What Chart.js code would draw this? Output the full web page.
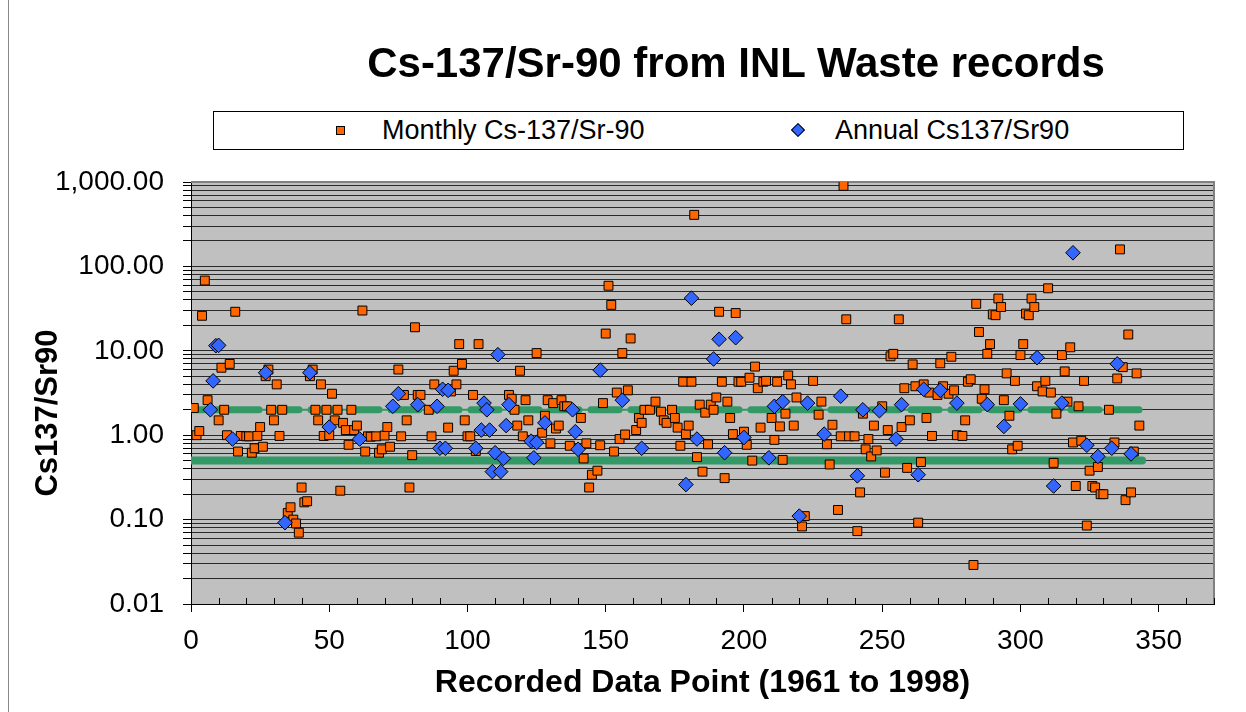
<!DOCTYPE html>
<html>
<head>
<meta charset="utf-8">
<title>Cs-137/Sr-90 from INL Waste records</title>
<script src="https://cdn.jsdelivr.net/npm/chart.js@4.4.1/dist/chart.umd.min.js"></script>
<style>
    body { margin: 0; background: #fff; font-family: 'Liberation Sans', Arial, sans-serif; }
    #wrap { position: relative; width: 1246px; height: 712px; overflow: hidden; }
    #edge { position: absolute; left: 8px; top: 0; width: 1px; height: 712px; background: #888; }
    #title { position: absolute; left: 236px; width: 1000px; top: 38px; text-align: center;
             font-weight: bold; font-size: 42px; line-height: 50px; color: #000; }
    #legend { position: absolute; left: 213px; top: 111px; width: 969px; height: 37px;
              border: 1px solid #000; background: #fff; }
    .lg-text { position: absolute; top: 2px; font-size: 27px; line-height: 32px; color: #000; white-space: nowrap; }
    .sq { position: absolute; width: 7px; height: 7px; background: #ff6600; border: 1px solid #000; }
    .dia { position: absolute; width: 8px; height: 8px; background: #3366ff; border: 1px solid #000; transform: rotate(45deg); }
    #ytitle { position: absolute; left: -103px; top: 393px; width: 300px; height: 40px; line-height: 40px;
              text-align: center; font-weight: bold; font-size: 31px; transform: rotate(-90deg); color: #000; }
    canvas { position: absolute; left: 0; top: 0; }
</style>
</head>
<body>
<div id="wrap">
    <canvas id="chart" width="1246" height="712"></canvas>
    <div id="edge"></div>
    <div id="title">Cs-137/Sr-90 from INL Waste records</div>
    <div id="legend">
        <span class="sq" style="left:122px; top:14px;"></span>
        <span class="lg-text" style="left:168px;">Monthly Cs-137/Sr-90</span>
        <span class="dia" style="left:579px; top:13px;"></span>
        <span class="lg-text" style="left:621px;">Annual Cs137/Sr90</span>
    </div>
    <div id="ytitle">Cs137/Sr90</div>
</div>
<script>
// 数据：每月 Cs-137/Sr-90 比值 [记录点, 比值]
const monthlyData = [
    [1,2.1],[2,1.0],[3,1.12],[4,26],[5,68],[6,2.6],[10,1.5],[11,6.3],[12,2.0],[13,1.0],
    [14,7.0],[16,29],[17,0.64],[18,0.98],[20,0.97],[21,0.97],[22,0.62],[23,0.7],[24,0.98],[25,1.25],
    [26,0.73],[27,5.0],[28,6.0],[29,2.0],[30,1.5],[31,4.0],[32,0.98],[33,2.0],[35,0.12],[36,0.14],
    [37,0.10],[38,0.09],[39,0.07],[40,0.24],[41,0.16],[42,0.165],[43,5.0],[44,6.0],[45,2.0],[46,1.5],
    [47,4.0],[48,0.98],[49,2.0],[50,1.0],[51,3.1],[52,1.5],[53,2.0],[54,0.22],[55,1.4],[56,1.15],
    [57,0.77],[58,2.0],[59,1.15],[60,1.3],[62,30],[63,0.64],[64,0.97],[65,0.96],[67,0.97],[68,0.62],
    [69,0.68],[70,0.99],[71,1.25],[72,0.73],[75,6.0],[76,0.97],[77,3.0],[78,1.5],[79,0.24],[80,0.58],
    [81,19],[82,3.0],[83,3.0],[86,2.0],[87,0.97],[88,4.0],[93,1.23],[94,3.3],[95,5.8],[96,4.0],
    [97,12],[98,7.0],[99,1.5],[100,0.97],[101,0.97],[102,3.0],[103,0.65],[104,12],[115,3.0],[116,2.7],
    [117,2.0],[118,1.3],[119,5.8],[120,0.97],[121,2.6],[122,1.5],[125,9.4],[127,1.07],[128,1.7],[129,2.6],
    [130,0.8],[131,2.4],[132,1.2],[133,1.3],[134,2.6],[135,2.2],[136,2.2],[137,0.75],[141,1.6],[142,0.53],
    [143,0.8],[144,0.24],[145,0.34],[147,0.38],[148,0.76],[149,2.4],[150,16],[151,59],[152,35],[153,0.64],
    [154,3.2],[155,0.9],[156,9.4],[157,1.02],[158,3.4],[159,14],[161,1.15],[162,1.6],[163,1.4],[164,2.0],
    [166,2.0],[168,2.5],[170,1.9],[171,1.5],[172,1.4],[174,2.0],[175,1.6],[176,1.23],[177,0.75],[178,4.3],
    [179,1.03],[180,1.3],[181,4.3],[182,408],[183,0.55],[184,2.3],[185,0.37],[186,1.85],[187,0.78],[188,2.3],
    [189,2.0],[190,2.8],[191,29],[192,4.3],[193,0.31],[194,2.5],[195,1.6],[196,1.03],[197,28],[198,4.3],
    [199,4.3],[200,1.1],[201,0.77],[202,4.8],[203,0.5],[204,6.5],[205,3.6],[206,1.23],[207,4.3],[208,4.4],
    [210,1.6],[211,0.88],[212,4.3],[213,1.27],[214,0.51],[215,1.8],[216,5.1],[217,4.0],[218,1.3],[219,2.8],
    [221,0.083],[222,0.11],[225,4.4],[227,1.75],[228,2.5],[230,0.78],[231,0.45],[232,1.33],[234,0.13],[235,0.97],
    [236,900],[237,23.6],[238,0.97],[240,0.97],[241,0.073],[242,0.21],[243,1.8],[244,0.68],[245,0.9],[246,0.56],
    [247,1.3],[248,0.66],[250,2.2],[251,0.36],[252,1.15],[253,8.6],[254,9.2],[256,23.6],[257,1.25],[258,3.6],
    [259,0.41],[260,1.5],[261,6.9],[262,3.8],[263,0.092],[264,0.48],[265,4.0],[266,1.6],[267,3.2],[268,0.98],
    [270,3.0],[271,7.1],[272,3.8],[274,3.1],[275,8.5],[276,3.4],[277,1.0],[279,0.98],[280,1.5],[281,4.3],
    [282,4.6],[283,0.029],[284,36],[285,16.7],[286,2.7],[287,3.5],[288,9.2],[289,12],[290,27],[291,26.4],
    [292,41.6],[293,33],[294,2.6],[295,5.4],[296,1.7],[297,0.68],[298,4.4],[299,0.75],[300,8.9],[301,12],
    [302,27.6],[303,26.4],[304,41.6],[305,33],[306,3.8],[308,3.3],[309,4.4],[310,55],[311,3.2],[312,0.47],
    [313,1.8],[315,8.9],[316,5.7],[317,2.5],[318,11],[319,0.82],[320,0.25],[321,2.2],[322,0.86],[323,4.4],
    [324,0.085],[325,0.38],[326,0.25],[327,0.24],[328,0.42],[329,0.2],[330,0.2],[332,2.0],[334,0.82],[335,4.7],
    [336,159],[337,6.4],[338,0.17],[339,15.6],[340,0.21],[341,0.64],[342,5.4],[343,1.3]
];

// 年度 Cs137/Sr90 比值
const annualData = [
    [7,2.0],[8,4.4],[9,11.5],[10,11.6],[15,0.9],[27,5.5],[34,0.092],[43,5.5],[50,1.25],[61,0.9],
    [73,2.2],[75,3.1],[82,2.3],[89,2.2],[90,0.7],[91,3.5],[92,0.7],[93,3.4],[103,0.7],[105,1.15],
    [106,2.4],[107,2.0],[108,1.15],[109,0.37],[110,0.62],[111,9],[112,0.37],[113,0.53],[114,1.3],[115,2.3],
    [123,0.85],[124,0.54],[125,0.82],[128,1.4],[138,2.0],[139,1.1],[140,0.68],[148,5.9],[156,2.6],[163,0.7],
    [179,0.26],[181,42],[183,0.9],[189,8.0],[191,13.7],[193,0.62],[197,14.3],[200,0.94],[209,0.54],[211,2.2],
    [214,2.5],[220,0.11],[223,2.4],[229,1.03],[235,2.9],[241,0.33],[243,2.0],[249,1.95],[255,0.9],[257,2.3],
    [263,0.34],[265,3.5],[271,3.4],[277,2.4],[288,2.3],[294,1.27],[300,2.35],[306,8.3],[312,0.25],[315,2.4],
    [319,145],[324,0.76],[328,0.56],[333,0.7],[335,7.0],[340,0.6]
];

// 参考线（绿色）
const guideHigh = 2;
const guideLow = 0.5;
const guideFrom = 0;
const guideTo = 344;

// 坐标轴
const xMin = 0;
const xMax = 370;
const xStep = 10;
const xLabelEvery = 50;
const yDecades = [0.01, 0.1, 1, 10, 100, 1000];
const yTickLabels = ['0.01', '0.10', '1.00', '10.00', '100.00', '1,000.00'];

// 对数刻度的全部网格值 (1..9 × 10^k)
function buildLogGrid() {
    const vals = [];
    for (let i = 0; i < yDecades.length - 1; i++) {
        for (let m = 1; m <= 9; m++) {
            vals.push(Number((m * yDecades[i]).toPrecision(3)));
        }
    }
    vals.push(yDecades[yDecades.length - 1]);
    return vals;
}

function toPoints(pairs) {
    return pairs.map(p => ({ x: p[0], y: p[1] }));
}

const FONT = "'Liberation Sans', Arial, sans-serif";

// 绘图区背景和边框
const plotAreaPlugin = {
    id: 'plotArea',
    beforeDraw(chart) {
        const { ctx, chartArea: a } = chart;
        ctx.save();
        ctx.fillStyle = '#c0c0c0';
        ctx.fillRect(a.left, a.top, a.right - a.left, a.bottom - a.top);
        ctx.restore();
    },
    beforeDatasetsDraw(chart) {
        const { ctx, chartArea: a } = chart;
        ctx.save();
        ctx.strokeStyle = '#808080';
        ctx.lineWidth = 2;
        ctx.beginPath();
        ctx.moveTo(a.left, a.top);
        ctx.lineTo(a.right, a.top);
        ctx.lineTo(a.right, a.bottom);
        ctx.stroke();
        // x 轴次刻度（向内）
        const xs = chart.scales.x;
        ctx.strokeStyle = '#000';
        ctx.lineWidth = 1;
        xs.ticks.forEach(t => {
            if (t.value % xLabelEvery !== 0) {
                const px = Math.round(xs.getPixelForValue(t.value)) + 0.5;
                ctx.beginPath();
                ctx.moveTo(px, a.bottom);
                ctx.lineTo(px, a.bottom - 6);
                ctx.stroke();
            }
        });
        ctx.restore();
    }
};

const ctx = document.getElementById('chart').getContext('2d');

new Chart(ctx, {
    type: 'scatter',
    data: {
        datasets: [{
            label: 'Monthly Cs-137/Sr-90',
            data: toPoints(monthlyData),
            pointStyle: 'rect',
            pointRadius: 6.3,
            pointBackgroundColor: '#ff6600',
            pointBorderColor: '#000',
            pointBorderWidth: 1,
            order: 1
        }, {
            label: 'Annual Cs137/Sr90',
            data: toPoints(annualData),
            pointStyle: 'rectRot',
            pointRadius: 7.3,
            pointBackgroundColor: '#3366ff',
            pointBorderColor: '#000',
            pointBorderWidth: 1,
            order: 0
        }, {
            label: 'guide high thin',
            data: [{ x: guideFrom, y: guideHigh }, { x: guideTo, y: guideHigh }],
            showLine: true,
            borderColor: '#339966',
            borderWidth: 2,
            pointRadius: 0,
            order: 3
        }, {
            label: 'guide high',
            data: [{ x: guideFrom, y: guideHigh }, { x: guideTo, y: guideHigh }],
            showLine: true,
            borderColor: '#339966',
            borderWidth: 7,
            borderDash: [28, 12],
            borderCapStyle: 'round',
            pointRadius: 0,
            order: 2
        }, {
            label: 'guide low',
            data: [{ x: guideFrom, y: guideLow }, { x: guideTo, y: guideLow }],
            showLine: true,
            borderColor: '#339966',
            borderWidth: 8,
            borderCapStyle: 'round',
            pointRadius: 0,
            order: 2
        }]
    },
    options: {
        responsive: false,
        animation: false,
        devicePixelRatio: 1,
        layout: {
            padding: { left: 0, right: 32, top: 182, bottom: 0 }
        },
        scales: {
            x: {
                type: 'linear',
                min: xMin,
                max: xMax,
                afterFit: function(scale) { scale.height = 108; },
                ticks: {
                    stepSize: xStep,
                    autoSkip: false,
                    maxRotation: 0,
                    padding: 12,
                    color: '#000',
                    font: { family: FONT, size: 28 },
                    callback: function(v) { return v % xLabelEvery === 0 ? String(v) : ''; }
                },
                grid: {
                    drawOnChartArea: false,
                    tickLength: 8,
                    tickColor: function(c) {
                        return c.tick && c.tick.value % xLabelEvery === 0 ? '#000' : 'rgba(0,0,0,0)';
                    }
                },
                border: { color: '#000', width: 1 },
                title: {
                    display: true,
                    text: 'Recorded Data Point (1961 to 1998)',
                    color: '#000',
                    font: { family: FONT, size: 32, weight: 'bold' },
                    padding: { top: 0, bottom: 10 }
                }
            },
            y: {
                type: 'logarithmic',
                min: yDecades[0],
                max: yDecades[yDecades.length - 1],
                afterFit: function(scale) { scale.width = 191; },
                afterBuildTicks: function(scale) {
                    scale.ticks = buildLogGrid().map(v => ({ value: v }));
                },
                ticks: {
                    autoSkip: false,
                    padding: 19,
                    color: '#000',
                    font: { family: FONT, size: 28 },
                    callback: function(v) {
                        const i = yDecades.findIndex(d => Math.abs(d - v) < d * 1e-6);
                        return i >= 0 ? yTickLabels[i] : '';
                    }
                },
                grid: {
                    color: '#2a2a2a',
                    lineWidth: 1,
                    tickLength: 8,
                    tickColor: '#000'
                },
                border: { color: '#000', width: 1 }
            }
        },
        plugins: {
            legend: { display: false },
            title: { display: false },
            tooltip: { enabled: false }
        }
    },
    plugins: [plotAreaPlugin]
});
</script>
</body>
</html>
